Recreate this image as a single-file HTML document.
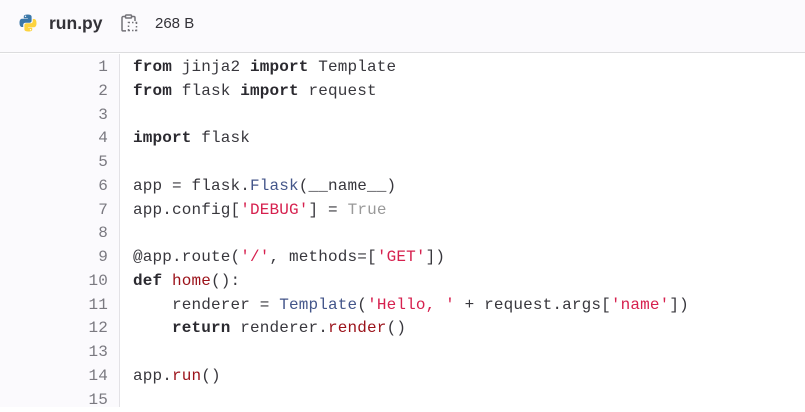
<!DOCTYPE html>
<html><head><meta charset="utf-8"><style>
*{margin:0;padding:0;box-sizing:border-box}
html,body{width:805px;height:407px;overflow:hidden;background:#fff}
.hdr{position:absolute;left:0;top:0;width:805px;height:53px;background:#fbfafd;border-bottom:1px solid #dcdcde}
.fname{position:absolute;left:49px;top:11px;font:bold 17.5px/24px "Liberation Sans",sans-serif;color:#333238}
.size{position:absolute;left:155px;top:14px;font:15px/20px "Liberation Sans",sans-serif;color:#333238}
.gut{position:absolute;left:0;top:54px;width:120px;height:353px;background:#fbfafd;border-right:1px solid #e3e2e6}
.ln{position:absolute;right:697px;width:60px;text-align:right;font:16px/23.75px "Liberation Mono",monospace;color:#7a7980;letter-spacing:0.15px}
.cl{position:absolute;left:133px;font:16px/23.75px "Liberation Mono",monospace;color:#38373d;letter-spacing:0.15px;white-space:pre}
b{font-weight:bold;color:#2b2a30}
.s{color:#d6204e}.b{color:#44568a}.f{color:#9b1119}.g{color:#999}
.w{position:absolute;left:0;top:2px;width:805px;height:405px}
</style></head><body>
<div class="hdr">
<svg style="position:absolute;left:19px;top:14px" width="18" height="18" viewBox="0 0 18 18">
<path d="M8.8 0.5c-4.2 0-4 1.8-4 1.8v1.9h4.1v0.6H3.1S0.5 4.5 0.5 8.8s2.3 4.2 2.3 4.2h1.4v-2s-0.1-2.3 2.3-2.3h3.900s2.2 0 2.2-2.1V2.9S13 0.5 8.8 0.5z" fill="#3b77a8"/>
<circle cx="6.5" cy="2.3" r="0.7" fill="#fff"/>
<path d="M9.2 17.5c4.2 0 4-1.8 4-1.8v-1.9H9.1v-0.6h5.8s2.6 0.3 2.6-4.0-2.3-4.2-2.3-4.2h-1.4v2s0.1 2.3-2.3 2.3H7.6s-2.2 0-2.2 2.1v3.7S5 17.5 9.2 17.5z" fill="#fcd33f"/>
<circle cx="11.5" cy="15.7" r="0.7" fill="#fff"/>
</svg>
<div class="fname">run.py</div>
<svg style="position:absolute;left:121px;top:14px" width="17" height="19" viewBox="0 0 17 19" fill="none" stroke="#737278" stroke-width="1.5">
<rect x="4.5" y="1" width="6" height="3" rx="0.8"/>
<path d="M4 2.5H2.2a1.2 1.2 0 0 0-1.2 1.2v12a1.2 1.2 0 0 0 1.2 1.2H5"/>
<path d="M11 2.5h1.8a1.2 1.2 0 0 1 1.2 1.2V7"/>
<path d="M7.5 9v-0.5h1.5M11 8.5h1.5M14.5 8.5h1v1.5M15.5 12v1.5M15.5 15.5v1h-1.5M12.5 16.5h-1.5M9 16.5h-1.5v-1.5M7.5 13v-1.5"/>
</svg>
<div class="size">268 B</div>
</div>
<div class="gut"></div>
<div class="w">
<div class="ln" style="top:54px">1</div>
<div class="ln" style="top:77.75px">2</div>
<div class="ln" style="top:101.5px">3</div>
<div class="ln" style="top:125.25px">4</div>
<div class="ln" style="top:149px">5</div>
<div class="ln" style="top:172.75px">6</div>
<div class="ln" style="top:196.5px">7</div>
<div class="ln" style="top:220.25px">8</div>
<div class="ln" style="top:244px">9</div>
<div class="ln" style="top:267.75px">10</div>
<div class="ln" style="top:291.5px">11</div>
<div class="ln" style="top:315.25px">12</div>
<div class="ln" style="top:339px">13</div>
<div class="ln" style="top:362.75px">14</div>
<div class="ln" style="top:386.5px">15</div>

<div class="cl" style="top:54px"><b>from</b> jinja2 <b>import</b> Template</div>
<div class="cl" style="top:77.75px"><b>from</b> flask <b>import</b> request</div>
<div class="cl" style="top:125.25px"><b>import</b> flask</div>
<div class="cl" style="top:172.75px">app = flask.<span class="b">Flask</span>(__name__)</div>
<div class="cl" style="top:196.5px">app.config[<span class="s">'DEBUG'</span>] = <span class="g">True</span></div>
<div class="cl" style="top:244px">@app.route(<span class="s">'/'</span>, methods=[<span class="s">'GET'</span>])</div>
<div class="cl" style="top:267.75px"><b>def</b> <span class="f">home</span>():</div>
<div class="cl" style="top:291.5px">    renderer = <span class="b">Template</span>(<span class="s">'Hello, '</span> + request.args[<span class="s">'name'</span>])</div>
<div class="cl" style="top:315.25px">    <b>return</b> renderer.<span class="f">render</span>()</div>
<div class="cl" style="top:362.75px">app.<span class="f">run</span>()</div>
</div>
</body></html>
